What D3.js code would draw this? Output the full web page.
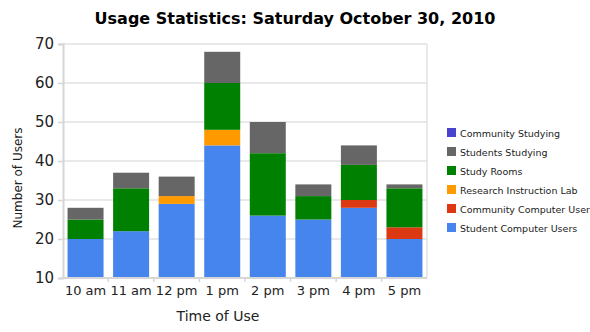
<!DOCTYPE html>
<html>
<head>
<meta charset="utf-8">
<script src="https://cdn.jsdelivr.net/npm/d3@7"></script>
<style>
  html, body { margin: 0; padding: 0; background: #fff; }
  svg { display: block; font-family: "DejaVu Sans", sans-serif; }
</style>
</head>
<body>
<svg id="chart" width="590" height="332"></svg>
<script>
// Hourly usage counts, Saturday October 30, 2010
const hours = ["10 am", "11 am", "12 pm", "1 pm", "2 pm", "3 pm", "4 pm", "5 pm"];

const studentComputerUsers   = [20, 22, 29, 44, 26, 25, 28, 20];
const communityComputerUser  = [0, 0, 0, 0, 0, 0, 2, 3];
const researchInstructionLab = [0, 0, 2, 4, 0, 0, 0, 0];
const studyRooms             = [5, 11, 0, 12, 16, 6, 9, 10];
const studentsStudying       = [3, 4, 5, 8, 8, 3, 5, 1];
const communityStudying      = [0, 0, 0, 0, 0, 0, 0, 0];

const yTicks = [10, 20, 30, 40, 50, 60, 70];

// Stack order, bottom to top
const seriesNames = [
  "Student Computer Users",
  "Community Computer User",
  "Research Instruction Lab",
  "Study Rooms",
  "Students Studying",
  "Community Studying"
];
const seriesValues = [
  studentComputerUsers,
  communityComputerUser,
  researchInstructionLab,
  studyRooms,
  studentsStudying,
  communityStudying
];
const seriesColors = ["#4684ee", "#dc3912", "#ff9900", "#008000", "#666666", "#4942cc"];

const rows = hours.map((h, i) => {
  const r = { hour: h };
  seriesNames.forEach((n, j) => { r[n] = seriesValues[j][i]; });
  return r;
});

const svg = d3.select("#chart");
const margin = { left: 63, right: 163, top: 44, bottom: 54 };
const W = 590, H = 332;
const plotW = W - margin.left - margin.right;
const plotH = H - margin.top - margin.bottom;

const x = d3.scaleBand().domain(hours).range([0, plotW]).paddingInner(0.21).paddingOuter(0.1);
const y = d3.scaleLinear().domain([10, 70]).range([plotH, 0]).clamp(true);

const g = svg.append("g").attr("transform", `translate(${margin.left},${margin.top})`);

// gridlines
g.append("g")
  .selectAll("line")
  .data(yTicks)
  .join("line")
  .attr("x1", 0).attr("x2", plotW)
  .attr("y1", d => y(d)).attr("y2", d => y(d))
  .attr("stroke", "#e2e2e2").attr("stroke-width", 1.5);

// right frame edge
g.append("line")
  .attr("x1", plotW).attr("x2", plotW).attr("y1", 0).attr("y2", plotH)
  .attr("stroke", "#e2e2e2").attr("stroke-width", 1.5);

// stacked bars
const stack = d3.stack().keys(seriesNames)(rows);
g.append("g")
  .selectAll("g")
  .data(stack)
  .join("g")
  .attr("fill", (d, i) => seriesColors[i])
  .selectAll("rect")
  .data(d => d)
  .join("rect")
  .attr("x", d => x(d.data.hour))
  .attr("width", x.bandwidth())
  .attr("y", d => y(d[1]))
  .attr("height", d => y(d[0]) - y(d[1]));

// y axis
const yAxis = g.append("g")
  .call(d3.axisLeft(y).tickValues(yTicks).tickSize(5).tickPadding(4));
yAxis.select(".domain").attr("stroke", "#d6d6d6").attr("stroke-width", 2);
yAxis.selectAll(".tick line").attr("stroke", "#d6d6d6").attr("stroke-width", 1.5);
yAxis.selectAll(".tick text")
  .attr("font-family", "DejaVu Sans").attr("font-size", 15).attr("fill", "#222");

// x axis with ticks at band boundaries
const step = x.step();
const xAxisG = g.append("g").attr("transform", `translate(0,${plotH})`);
xAxisG.append("line")
  .attr("x1", 0).attr("x2", plotW)
  .attr("stroke", "#d6d6d6").attr("stroke-width", 2);
xAxisG.selectAll("line.sep")
  .data(d3.range(1, hours.length))
  .join("line")
  .attr("class", "sep")
  .attr("x1", i => x(hours[i]) - step * x.paddingInner() / 2)
  .attr("x2", i => x(hours[i]) - step * x.paddingInner() / 2)
  .attr("y1", 0).attr("y2", 4)
  .attr("stroke", "#d6d6d6").attr("stroke-width", 1.5);
xAxisG.selectAll("text")
  .data(hours)
  .join("text")
  .attr("x", d => x(d) + x.bandwidth() / 2)
  .attr("y", 17)
  .attr("text-anchor", "middle")
  .attr("font-size", 13)
  .attr("fill", "#222")
  .text(d => d);

// title
svg.append("text")
  .attr("x", 295).attr("y", 24)
  .attr("text-anchor", "middle")
  .attr("font-weight", "bold")
  .attr("font-size", 16)
  .attr("fill", "#000")
  .text("Usage Statistics: Saturday October 30, 2010");

// axis titles
svg.append("text")
  .attr("x", 218).attr("y", 321)
  .attr("text-anchor", "middle")
  .attr("font-size", 14)
  .attr("fill", "#222")
  .text("Time of Use");

svg.append("text")
  .attr("transform", "translate(22,178) rotate(-90)")
  .attr("text-anchor", "middle")
  .attr("font-size", 12)
  .attr("fill", "#222")
  .text("Number of Users");

// legend, top-most series first
const legend = svg.append("g").attr("transform", "translate(447,128)");
const legendItems = seriesNames.map((n, i) => ({ name: n, color: seriesColors[i] })).reverse();
const li = legend.selectAll("g")
  .data(legendItems)
  .join("g")
  .attr("transform", (d, i) => `translate(0,${i * 19})`);
li.append("rect").attr("width", 9).attr("height", 9).attr("fill", d => d.color);
li.append("text")
  .attr("x", 13).attr("y", 8.5)
  .attr("font-size", 9.5)
  .attr("fill", "#222")
  .text(d => d.name);
</script>
</body>
</html>
